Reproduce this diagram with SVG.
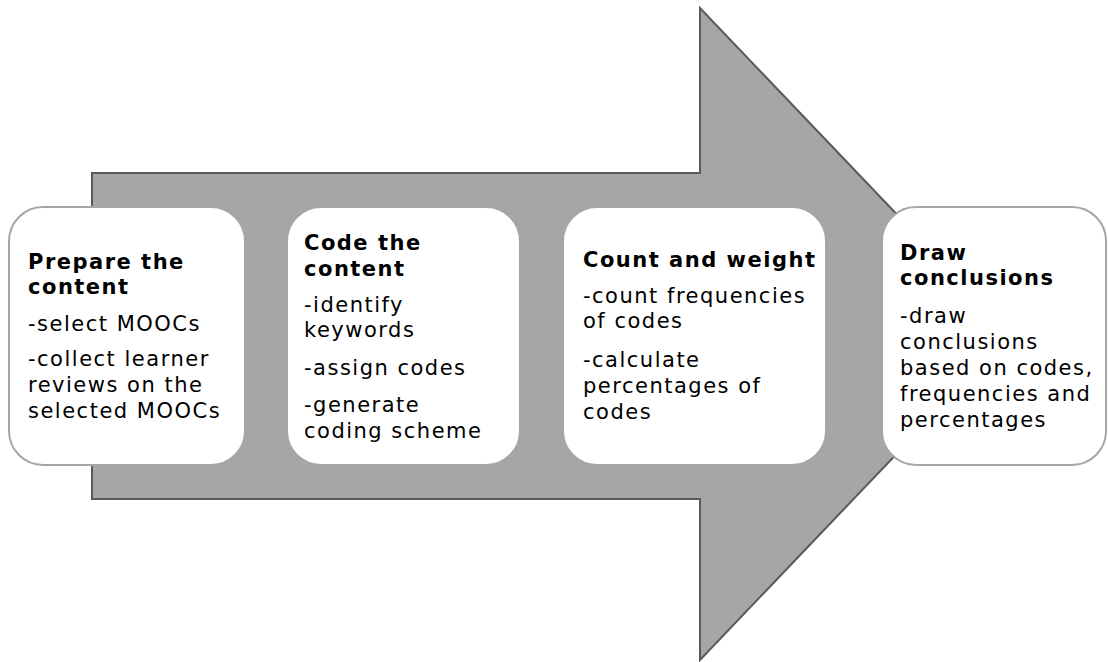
<svg xmlns="http://www.w3.org/2000/svg" width="1108" height="662" viewBox="0 0 1108 662">
<style>
.box{fill:#ffffff;stroke:#a6a6a6;stroke-width:2}
.t{font-family:"DejaVu Sans",Verdana,sans-serif;font-size:21px;letter-spacing:1.5px;fill:#000}
.b{font-weight:bold}
</style>
<rect width="1108" height="662" fill="#ffffff"/>
<g id="arrow">
<path d="M92,173 H700 V8 L1011,334 L700,660 V499 H92 Z" fill="#a6a6a6" stroke="#595959" stroke-width="2" stroke-linejoin="miter"/>
</g>
<g id="node1">
<rect class="box" x="9" y="207" width="236" height="258" rx="34"/>
<text class="t b" x="28" y="269">Prepare the</text>
<text class="t b" x="28" y="294">content</text>
<text class="t" x="28" y="331">-select MOOCs</text>
<text class="t" x="28" y="366">-collect learner</text>
<text class="t" x="28" y="392">reviews on the</text>
<text class="t" x="28" y="418">selected MOOCs</text>
</g>
<g id="node2">
<rect class="box" x="287" y="207" width="233" height="258" rx="34"/>
<text class="t b" x="304" y="250">Code the</text>
<text class="t b" x="304" y="276">content</text>
<text class="t" x="304" y="312">-identify</text>
<text class="t" x="304" y="337">keywords</text>
<text class="t" x="304" y="375">-assign codes</text>
<text class="t" x="304" y="412">-generate</text>
<text class="t" x="304" y="438">coding scheme</text>
</g>
<g id="node3">
<rect class="box" x="563" y="207" width="263" height="258" rx="34"/>
<text class="t b" x="583" y="267">Count and weight</text>
<text class="t" x="583" y="303">-count frequencies</text>
<text class="t" x="583" y="328">of codes</text>
<text class="t" x="583" y="367">-calculate</text>
<text class="t" x="583" y="393">percentages of</text>
<text class="t" x="583" y="419">codes</text>
</g>
<g id="node4">
<rect class="box" x="882" y="207" width="224" height="258" rx="34"/>
<text class="t b" x="900" y="260">Draw</text>
<text class="t b" x="900" y="285">conclusions</text>
<text class="t" x="900" y="323">-draw</text>
<text class="t" x="900" y="349">conclusions</text>
<text class="t" x="900" y="375">based on codes,</text>
<text class="t" x="900" y="401">frequencies and</text>
<text class="t" x="900" y="427">percentages</text>
</g>
</svg>
